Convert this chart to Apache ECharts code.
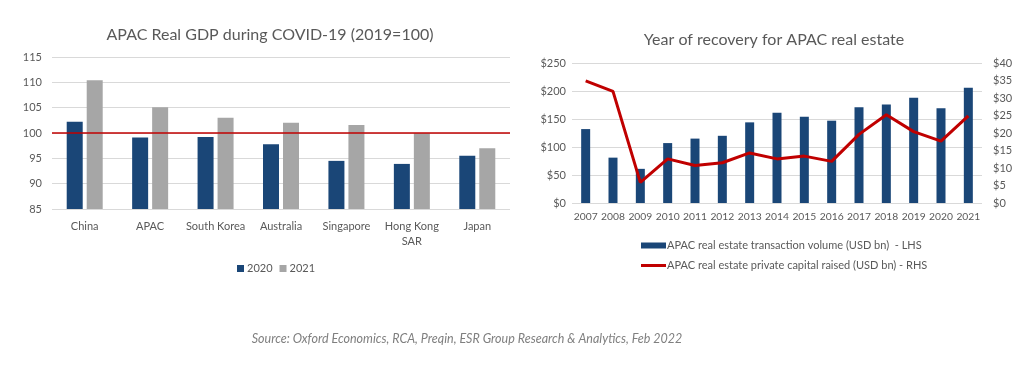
<!DOCTYPE html>
<html><head><meta charset="utf-8">
<script src="https://cdn.jsdelivr.net/npm/echarts@6/dist/echarts.min.js"></script>
<style>html,body{margin:0;padding:0;background:#fff}#c{width:1024px;height:381px}</style>
</head><body><div id="c"></div>
<script>
const gdpCategories = ['China','APAC','South Korea','Australia','Singapore','Hong Kong\nSAR','Japan'];
const gdp2020 = [102.2, 99.1, 99.2, 97.8, 94.5, 93.9, 95.5];
const gdp2021 = [110.4, 105.1, 103.0, 102.0, 101.6, 100.0, 97.0];
const gdpTicks = [85, 90, 95, 100, 105, 110, 115];
const baseline = 100;

const years = ['2007','2008','2009','2010','2011','2012','2013','2014','2015','2016','2017','2018','2019','2020','2021'];
const transactionVolume = [132, 81, 61, 107, 115, 120, 144, 161, 154, 147, 171, 176, 188, 169, 206];
const capitalRaised = [34.9, 31.9, 5.9, 12.6, 10.7, 11.5, 14.3, 12.6, 13.4, 11.9, 19.6, 25.2, 20.4, 17.7, 24.9];

const FONT = 'Lato';
const GREY = '#595959';
const BLUE = '#1a4677';
const LGREY = '#a6a6a6';
const RED = '#c00000';

const chart = echarts.init(document.getElementById('c'), null, {renderer:'canvas'});
const axisLbl = {color: GREY, fontFamily: FONT, fontSize: 11};
chart.setOption({
  animation: false,
  textStyle: {fontFamily: FONT},
  title: [
    {text: 'APAC Real GDP during COVID-19 (2019=100)', left: 265, top: 22, textAlign: 'center',
     textStyle: {color: GREY, fontFamily: FONT, fontSize: 16, fontWeight: 'normal'}},
    {text: 'Year of recovery for APAC real estate', left: 769, top: 27, textAlign: 'center',
     textStyle: {color: GREY, fontFamily: FONT, fontSize: 16, fontWeight: 'normal'}},
    {text: 'Source: Oxford Economics, RCA, Preqin, ESR Group Research & Analytics, Feb 2022', left: 462, top: 327, textAlign: 'center',
     textStyle: {color: '#7f7f7f', fontFamily: FONT, fontSize: 12.5, fontStyle: 'italic', fontWeight: 'normal'}}
  ],
  legend: [
    {data: ['2020','2021'], left: 232, top: 258, itemWidth: 7, itemHeight: 7, itemGap: 7, icon: 'rect',
     textStyle: {color: GREY, fontFamily: FONT, fontSize: 11, padding: [0,0,0,-2]}},
    {data: [{name: 'APAC real estate transaction volume (USD bn)  - LHS', icon: 'rect'},
            {name: 'APAC real estate private capital raised (USD bn) - RHS', icon: 'path://M0,0 L25,0 L25,3 L0,3 Z'}],
     orient: 'vertical', left: 636, top: 235, itemWidth: 25, itemHeight: 6, itemGap: 9,
     textStyle: {color: GREY, fontFamily: FONT, fontSize: 11, padding: [0,0,0,-4]}}
  ],
  grid: [
    {left: 52, right: 514, top: 57, bottom: 172},
    {left: 572, right: 42, top: 63, bottom: 178}
  ],
  xAxis: [
    {type: 'category', gridIndex: 0, data: gdpCategories,
     axisLine: {show: false}, axisTick: {show: false},
     axisLabel: Object.assign({margin: 10, interval: 0, lineHeight: 15}, axisLbl)},
    {type: 'category', gridIndex: 1, data: years,
     axisLine: {show: false}, axisTick: {show: false},
     axisLabel: Object.assign({}, axisLbl, {margin: 9, interval: 0, fontSize: 10.3})}
  ],
  yAxis: [
    {type: 'value', gridIndex: 0, min: gdpTicks[0], max: gdpTicks[gdpTicks.length-1], interval: 5,
     axisLine: {show: false}, axisTick: {show: false},
     splitLine: {lineStyle: {color: '#d9d9d9', width: 1}},
     axisLabel: Object.assign({margin: 10}, axisLbl)},
    {type: 'value', gridIndex: 1, min: 0, max: 250, interval: 50,
     axisLine: {show: false}, axisTick: {show: false},
     splitLine: {lineStyle: {color: '#d9d9d9', width: 1}},
     axisLabel: Object.assign({margin: 6, formatter: v => '$' + v}, axisLbl)},
    {type: 'value', gridIndex: 1, position: 'right', min: 0, max: 40, interval: 5,
     axisLine: {show: false}, axisTick: {show: false}, splitLine: {show: false},
     axisLabel: Object.assign({margin: 11, formatter: v => '$' + v}, axisLbl)}
  ],
  series: [
    {name: '2020', type: 'bar', xAxisIndex: 0, yAxisIndex: 0, data: gdp2020,
     barWidth: 16, barGap: '25%', itemStyle: {color: BLUE},
     markLine: {silent: true, symbol: 'none', label: {show: false},
       lineStyle: {color: RED, width: 1.5, type: 'solid'}, data: [{yAxis: baseline}]}},
    {name: '2021', type: 'bar', xAxisIndex: 0, yAxisIndex: 0, data: gdp2021,
     barWidth: 16, itemStyle: {color: LGREY}},
    {name: 'APAC real estate transaction volume (USD bn)  - LHS', type: 'bar', xAxisIndex: 1, yAxisIndex: 1,
     data: transactionVolume, barWidth: 9, itemStyle: {color: BLUE}},
    {name: 'APAC real estate private capital raised (USD bn) - RHS', type: 'line', xAxisIndex: 1, yAxisIndex: 2,
     data: capitalRaised, symbol: 'none', lineStyle: {color: RED, width: 3}, itemStyle: {color: RED}, z: 5}
  ]
});
</script></body></html>
